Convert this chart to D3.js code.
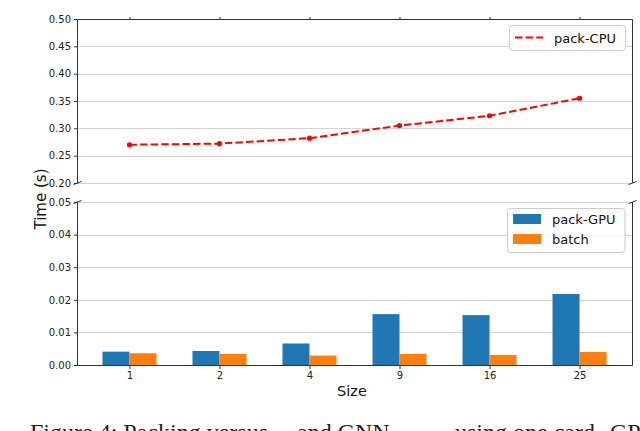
<!DOCTYPE html>
<html><head><meta charset="utf-8">
<script src="https://cdn.jsdelivr.net/npm/d3@7"></script>
<style>body{margin:0;background:#fff}svg{display:block}</style>
</head><body>
<svg id="c" width="640" height="431"></svg>
<script>
const sizes = ["1","2","4","9","16","25"];
const packCPU = [0.270, 0.272, 0.282, 0.305, 0.323, 0.355];
const packGPU = [0.0041, 0.0043, 0.0066, 0.0156, 0.0153, 0.0218];
const batch = [0.0036, 0.0034, 0.0029, 0.0034, 0.0031, 0.0040];
const topTicks = [0.20, 0.25, 0.30, 0.35, 0.40, 0.45, 0.50];
const botTicks = [0.00, 0.01, 0.02, 0.03, 0.04, 0.05];

const svg = d3.select("#c");
const L = 77, R = 632;
const x = d3.scalePoint().domain(sizes).range([L, R]).padding(0.583);
const step = x.step();
const bw = step * 0.3;
const yT = d3.scaleLinear().domain([0.20, 0.50]).range([183, 19]);
const yB = d3.scaleLinear().domain([0.00, 0.05]).range([365, 202]);
const font = "DejaVu Sans, sans-serif";
const spine = "#333";
const grid = "#d4d4d4";

function gridLines(y, ticks) {
  svg.append("g").selectAll("line").data(ticks).join("line")
    .attr("x1", L).attr("x2", R)
    .attr("y1", d => Math.round(y(d)) + 0.5).attr("y2", d => Math.round(y(d)) + 0.5)
    .attr("stroke", grid).attr("stroke-width", 1);
}
gridLines(yT, topTicks);
gridLines(yB, botTicks);

// bars
const gb = svg.append("g");
gb.selectAll("rect.g").data(packGPU).join("rect").attr("class", "g")
  .attr("x", (d, i) => x(sizes[i]) - bw).attr("width", bw)
  .attr("y", d => yB(d)).attr("height", d => yB(0) - yB(d))
  .attr("fill", "#1f77b4");
gb.selectAll("rect.b").data(batch).join("rect").attr("class", "b")
  .attr("x", (d, i) => x(sizes[i])).attr("width", bw)
  .attr("y", d => yB(d)).attr("height", d => yB(0) - yB(d))
  .attr("fill", "#ff7f0e");

// line
const line = d3.line().x((d, i) => x(sizes[i])).y(d => yT(d));
svg.append("path").datum(packCPU).attr("d", line)
  .attr("fill", "none").attr("stroke", "red").attr("stroke-width", 2)
  .attr("stroke-dasharray", "7.4,3.2");
svg.append("g").selectAll("circle").data(packCPU).join("circle")
  .attr("cx", (d, i) => x(sizes[i])).attr("cy", d => yT(d)).attr("r", 2.6).attr("fill", "red");

// axes (y)
function yAxis(y, ticks) {
  const g = svg.append("g").attr("transform", `translate(${L + 0.5},0)`)
    .call(d3.axisLeft(y).tickValues(ticks).tickFormat(d3.format(".2f")).tickSize(3.5).tickPadding(3));
  g.select(".domain").remove();
  g.selectAll("line").attr("stroke", spine);
  g.selectAll("text").attr("font-family", font).attr("font-size", "10px").attr("fill", "#222");
}
yAxis(yT, topTicks);
yAxis(yB, botTicks);

// x axis bottom
const gx = svg.append("g").attr("transform", `translate(0,${yB(0) + 0.5})`)
  .call(d3.axisBottom(x).tickSize(3.5).tickPadding(3));
gx.select(".domain").remove();
gx.selectAll("line").attr("stroke", spine);
gx.selectAll("text").attr("font-family", font).attr("font-size", "10px").attr("fill", "#222");
// top ticks of upper axes
const gxt = svg.append("g").attr("transform", `translate(0,${yT(0.5) + 0.5})`)
  .call(d3.axisTop(x).tickSize(2.5).tickFormat(""));
gxt.select(".domain").remove();
gxt.selectAll("line").attr("stroke", spine);

// spines
const sp = svg.append("g").attr("stroke", spine).attr("stroke-width", 1).attr("fill", "none");
sp.append("path").attr("d", `M${L + 0.5},${yT(0.2)}V${yT(0.5) + 0.5}H${R + 0.5}V${yT(0.2)}`);
sp.append("path").attr("d", `M${L + 0.5},${yB(0.05)}V${yB(0) + 0.5}H${R + 0.5}V${yB(0.05)}`);
// break marks
[[L + 0.5, yT(0.2)], [R + 0.5, yT(0.2)], [L + 0.5, yB(0.05)], [R + 0.5, yB(0.05)]].forEach(([px, py]) => {
  sp.append("line").attr("x1", px - 4).attr("y1", py + 1.5).attr("x2", px + 4).attr("y2", py - 1.5)
    .attr("stroke", spine).attr("stroke-width", 1);
});

// legends
const lg1 = svg.append("g");
lg1.append("rect").attr("x", 509.5).attr("y", 25.5).attr("width", 116).attr("height", 25).attr("rx", 3)
  .attr("fill", "white").attr("fill-opacity", 0.8).attr("stroke", "#ccc");
lg1.append("line").attr("x1", 515).attr("x2", 543).attr("y1", 37.5).attr("y2", 37.5)
  .attr("stroke", "red").attr("stroke-width", 2).attr("stroke-dasharray", "7.4,3.2");
lg1.append("text").attr("x", 554).attr("y", 42.5).text("pack-CPU")
  .attr("font-family", font).attr("font-size", "13px").attr("fill", "#111");

const lg2 = svg.append("g");
lg2.append("rect").attr("x", 507.5).attr("y", 208.5).attr("width", 117.5).attr("height", 44).attr("rx", 3)
  .attr("fill", "white").attr("fill-opacity", 0.8).attr("stroke", "#ccc");
[["pack-GPU", "#1f77b4", 214], ["batch", "#ff7f0e", 234]].forEach(([t, c, yy]) => {
  lg2.append("rect").attr("x", 513).attr("y", yy).attr("width", 28).attr("height", 10).attr("fill", c);
  lg2.append("text").attr("x", 552).attr("y", yy + 10).text(t)
    .attr("font-family", font).attr("font-size", "13px").attr("fill", "#111");
});

// axis labels
svg.append("text").attr("transform", "translate(46,199) rotate(-90)").attr("text-anchor", "middle")
  .attr("font-family", font).attr("font-size", "15px").attr("fill", "#111").text("Time (s)");
svg.append("text").attr("x", 352).attr("y", 396).attr("text-anchor", "middle")
  .attr("font-family", font).attr("font-size", "14.5px").attr("fill", "#111").text("Size");

// cropped caption (cut by the page edge, as in the reference)
const cap = svg.append("g").attr("font-family", "Liberation Serif, serif").attr("font-size", "24px").attr("fill", "#222");
cap.append("text").attr("x", 30).attr("y", 440).text("Figure 4: Packing versus");
cap.append("text").attr("x", 297).attr("y", 440).text("and GNN");
cap.append("text").attr("x", 455).attr("y", 440).text("using one card");
cap.append("text").attr("x", 610).attr("y", 440).text("GPU");
</script>
</body></html>
